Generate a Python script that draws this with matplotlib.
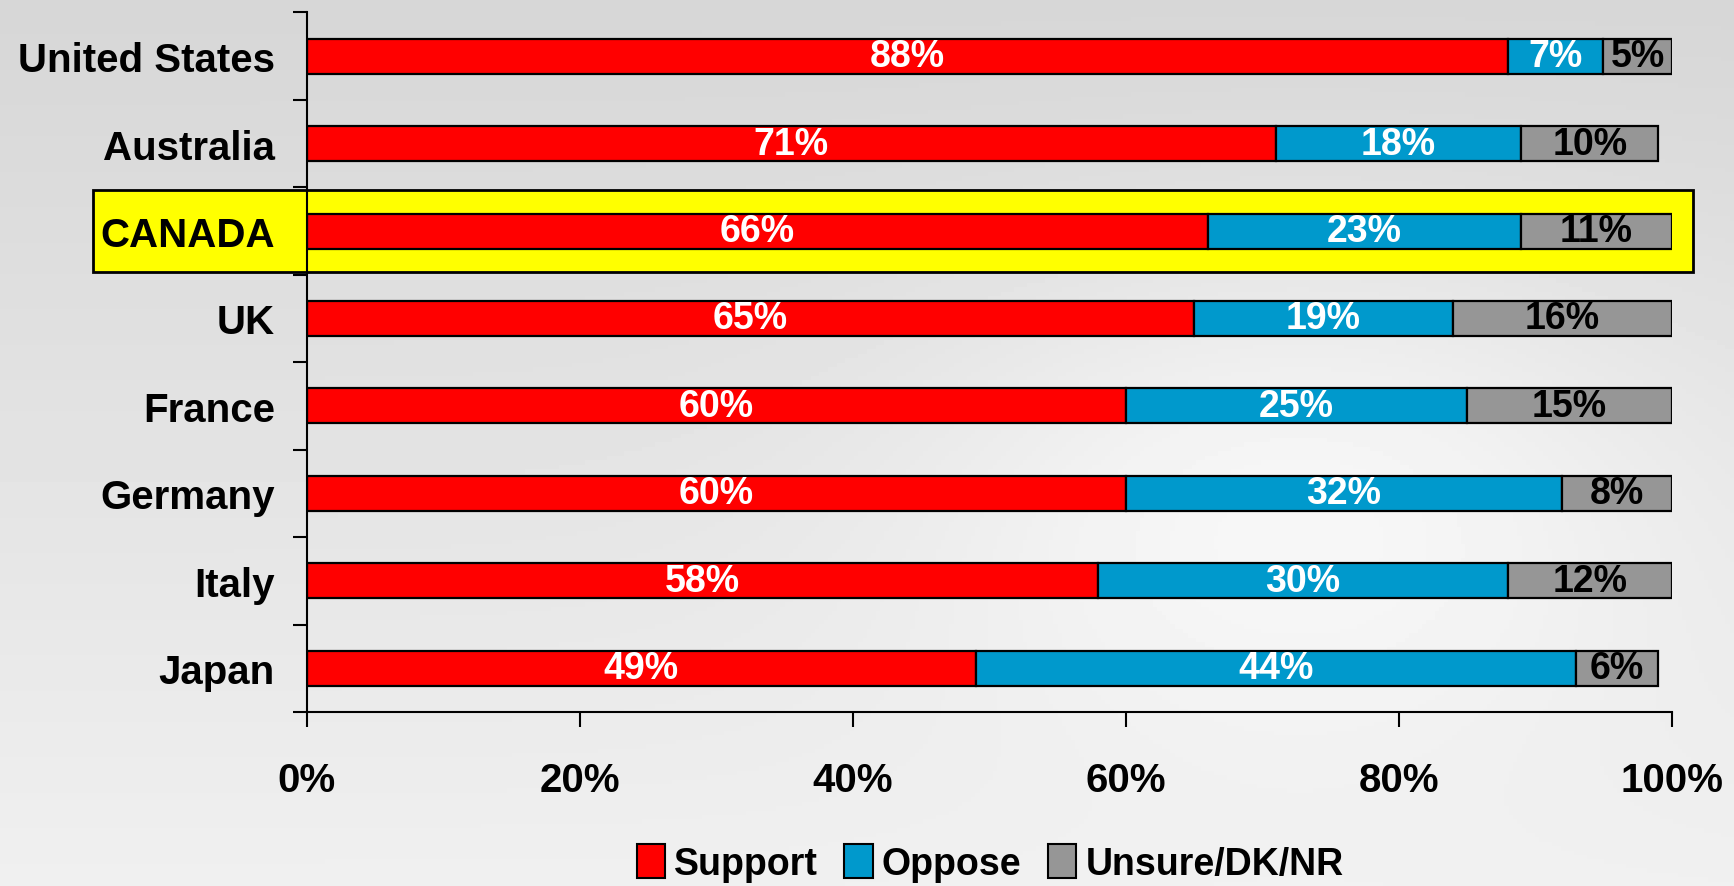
import numpy as np
import matplotlib.pyplot as plt
from matplotlib.patches import Rectangle, Patch

plt.rcParams['font.family'] = ['Liberation Sans', 'DejaVu Sans']
plt.rcParams['font.weight'] = 'bold'

countries = ['United States', 'Australia', 'CANADA', 'UK', 'France', 'Germany', 'Italy', 'Japan']
support = [88, 71, 66, 65, 60, 60, 58, 49]
oppose = [7, 18, 23, 19, 25, 32, 30, 44]
unsure = [5, 10, 11, 16, 15, 8, 12, 6]
series_names = ['Support', 'Oppose', 'Unsure/DK/NR']
colors = ['#ff0000', '#0099cc', '#969696']
text_colors = ['white', 'white', 'black']
highlight = 'CANADA'

fig = plt.figure(figsize=(17.34, 8.87), dpi=100)

# soft grey background
bg = fig.add_axes([0, 0, 1, 1], zorder=-10)
yy, xx = np.mgrid[0:1:200j, 0:1:400j]
shade = 0.84 + 0.10 * yy + 0.07 * np.exp(-((xx - 0.75) ** 2 / 0.05 + (yy - 0.55) ** 2 / 0.08))
shade = np.clip(shade, 0, 1)
bg.imshow(shade, cmap='gray', vmin=0, vmax=1, aspect='auto', extent=[0, 1, 0, 1], origin='upper')
bg.axis('off')

ax = fig.add_axes([0.177, 0.196, 0.787, 0.789])
ax.patch.set_alpha(0)

y = np.arange(len(countries))
left = np.zeros(len(countries))
for vals, col, tc in zip([support, oppose, unsure], colors, text_colors):
    vals = np.array(vals)
    ax.barh(y, vals, left=left, height=0.4, color=col, edgecolor='black', linewidth=1.6, zorder=3)
    for yi, l, v in zip(y, left, vals):
        ax.text(l + v / 2, yi, f'{v}%', ha='center', va='center', color=tc,
                fontsize=27, fontweight='bold', zorder=4)
    left = left + vals

# highlight box for Canada
ci = countries.index(highlight)
box = Rectangle((-15.7, ci - 0.47), 117.3, 0.94, facecolor='#ffff00', edgecolor='black',
                linewidth=2, clip_on=False, zorder=1)
ax.add_patch(box)

ax.set_xlim(0, 100)
ax.set_ylim(len(countries) - 0.5, -0.5)
ax.set_xticks(np.arange(0, 101, 20))
ax.set_xticklabels([f'{v}%' for v in range(0, 101, 20)], fontsize=29, fontweight='bold')
ax.set_yticks(np.arange(-0.5, len(countries), 1))
ax.set_yticklabels([])
ax.set_yticks(y, minor=True)
ax.set_yticklabels(countries, minor=True, fontsize=29, fontweight='bold')
ax.tick_params(axis='y', which='minor', length=0, pad=23)
ax.tick_params(axis='y', which='major', length=10, width=1.5, direction='out')
ax.tick_params(axis='x', length=11, width=1.5, direction='out', pad=24)
for spine in ['top', 'right']:
    ax.spines[spine].set_visible(False)
ax.spines['left'].set_linewidth(1.5)
ax.spines['bottom'].set_linewidth(1.5)
ax.spines['left'].set_zorder(5)

handles = [Patch(facecolor=c, edgecolor='black', linewidth=1.5) for c in colors]
fig.legend(handles, series_names, loc='center', bbox_to_anchor=(0.571, 0.026), ncol=3,
           frameon=False, handlelength=0.75, handleheight=1.0,
           handletextpad=0.25, columnspacing=0.7, prop={'weight': 'bold', 'size': 27})

fig.savefig('out.png', dpi=100)
